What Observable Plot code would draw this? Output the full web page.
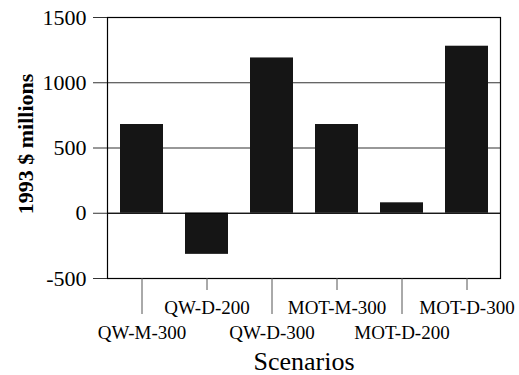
<!DOCTYPE html>
<html>
<head>
<meta charset="utf-8">
<script src="https://cdn.jsdelivr.net/npm/d3@7"></script>
<script src="https://cdn.jsdelivr.net/npm/@observablehq/plot@0.6"></script>
<style>
  html, body { margin: 0; padding: 0; background: white; }
</style>
</head>
<body>
<div id="chart"></div>
<script>
const scenarios = ["QW-M-300", "QW-D-200", "QW-D-300", "MOT-M-300", "MOT-D-200", "MOT-D-300"];
const values = [680, -315, 1190, 680, 80, 1280];
const yTicks = [-500, 0, 500, 1000, 1500];
const lowerLabels = ["QW-M-300", "QW-D-300", "MOT-D-200"];
const upperLabels = ["QW-D-200", "MOT-M-300", "MOT-D-300"];

const data = scenarios.map((s, i) => ({scenario: s, value: values[i]}));

const chart = Plot.plot({
  width: 519,
  height: 375,
  marginLeft: 107,
  marginRight: 19,
  marginTop: 17,
  marginBottom: 97,
  style: {fontFamily: "Liberation Serif", fontSize: "19px", background: "white", color: "black"},
  x: {domain: scenarios, paddingInner: 0.34, paddingOuter: 0.18, axis: null},
  y: {domain: [-500, 1500], axis: null},
  marks: [
    Plot.ruleY(yTicks, {stroke: "#333", strokeWidth: 1.2}),
    Plot.barY(data, {x: "scenario", y: "value", fill: "#151515"}),
    Plot.ruleY([0], {stroke: "#000", strokeWidth: 1.2}),
    Plot.frame({stroke: "#000", strokeWidth: 1.2}),
    Plot.axisY(yTicks, {tickSize: 14, tickPadding: 7, fontSize: 22, tickFormat: d => String(d), label: null, stroke: "#333"}),
    Plot.axisX(lowerLabels, {tickSize: 36, tickPadding: 11, fontSize: 19, label: null, stroke: "#555"}),
    Plot.axisX(upperLabels, {tickSize: 12, tickPadding: 10, fontSize: 19, label: null, stroke: "#555"}),
    Plot.text(["Scenarios"], {frameAnchor: "bottom", dy: 91, fontSize: 26, fill: "black"}),
    Plot.text(["1993 $ millions"], {frameAnchor: "left", textAnchor: "middle", dx: -82, dy: -4, rotate: -90, fontSize: 22, fontWeight: "bold", fill: "black"})
  ]
});
d3.select(chart).selectAll("text").style("font-family", "Liberation Serif");
document.getElementById("chart").appendChild(chart);
</script>
</body>
</html>
